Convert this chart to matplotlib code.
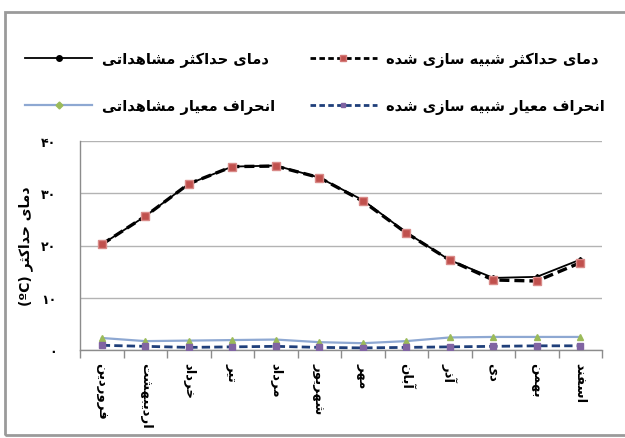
import numpy as np
import matplotlib
matplotlib.use('Agg')
import matplotlib.pyplot as plt
from matplotlib.lines import Line2D
from matplotlib.patches import Rectangle

plt.rcParams['font.family'] = ['DejaVu Sans']

months = ['فروردین', 'اردیبهشت', 'خرداد', 'تیر', 'مرداد', 'شهریور',
          'مهر', 'آبان', 'آذر', 'دی', 'بهمن', 'اسفند']
tmax_obs = [20.2, 25.6, 31.8, 35.1, 35.3, 33.0, 28.7, 22.5, 17.2, 13.8, 14.0, 17.3]
tmax_sim = [20.2, 25.6, 31.8, 35.1, 35.2, 33.0, 28.5, 22.4, 17.2, 13.4, 13.2, 16.7]
sd_obs = [2.3, 1.7, 1.8, 1.9, 2.0, 1.5, 1.3, 1.7, 2.4, 2.5, 2.5, 2.5]
sd_sim = [0.9, 0.7, 0.5, 0.6, 0.7, 0.5, 0.4, 0.5, 0.6, 0.7, 0.8, 0.8]
yticks = [0, 10, 20, 30, 40]

# presentation forms: isolated, final, initial, medial
FORMS = {
    'ا': (0xFE8D, 0xFE8E), 'آ': (0xFE81, 0xFE82),
    'د': (0xFEA9, 0xFEAA), 'ذ': (0xFEAB, 0xFEAC),
    'ر': (0xFEAD, 0xFEAE), 'ز': (0xFEAF, 0xFEB0),
    'و': (0xFEED, 0xFEEE),
    'ب': (0xFE8F, 0xFE90, 0xFE91, 0xFE92), 'ت': (0xFE95, 0xFE96, 0xFE97, 0xFE98),
    'ث': (0xFE99, 0xFE9A, 0xFE9B, 0xFE9C), 'ح': (0xFEA1, 0xFEA2, 0xFEA3, 0xFEA4),
    'خ': (0xFEA5, 0xFEA6, 0xFEA7, 0xFEA8), 'س': (0xFEB1, 0xFEB2, 0xFEB3, 0xFEB4),
    'ش': (0xFEB5, 0xFEB6, 0xFEB7, 0xFEB8), 'ع': (0xFEC9, 0xFECA, 0xFECB, 0xFECC),
    'ف': (0xFED1, 0xFED2, 0xFED3, 0xFED4), 'م': (0xFEE1, 0xFEE2, 0xFEE3, 0xFEE4),
    'ن': (0xFEE5, 0xFEE6, 0xFEE7, 0xFEE8), 'ه': (0xFEE9, 0xFEEA, 0xFEEB, 0xFEEC),
    'ک': (0xFB8E, 0xFB8F, 0xFB90, 0xFB91), 'ی': (0xFBFC, 0xFBFD, 0xFBFE, 0xFBFF),
}


def fa(text):
    out = []
    for i, ch in enumerate(text):
        if ch not in FORMS:
            out.append(ch)
            continue
        f = FORMS[ch]
        prev = text[i - 1] if i > 0 else ''
        nxt = text[i + 1] if i + 1 < len(text) else ''
        jp = prev in FORMS and len(FORMS[prev]) == 4
        jn = len(f) == 4 and nxt in FORMS
        if jp and jn:
            c = f[3]
        elif jp:
            c = f[1]
        elif jn:
            c = f[2]
        else:
            c = f[0]
        out.append(chr(c))
    return ''.join(out)[::-1]


def fa_digits(n):
    return ''.join(chr(0x06F0 + int(d)) for d in str(n))


fig = plt.figure(figsize=(6.25, 4.39), dpi=100)
fig.patches.append(Rectangle((5 / 625, 3 / 439), 1.0, 1 - 16 / 439,
                             transform=fig.transFigure, fill=False,
                             edgecolor='#9a9a9a', linewidth=2.0))
ax = fig.add_axes([80 / 625, 1 - 351 / 439, 522 / 625, 209 / 439])

x = np.arange(len(months))
ax.plot(x, tmax_obs, color='black', lw=1.3, marker='D', ms=3,
        mfc='black', mec='black', zorder=4)
ax.plot(x, tmax_sim, color='black', lw=2.4, ls=(0, (3, 1.5)), marker='s', ms=5.5,
        mfc='#c0504d', mec='#d98a88', zorder=5)
ax.plot(x, sd_obs, color='#8ea8d2', lw=1.6, marker='^', ms=5,
        mfc='#9bbb59', mec='#9bbb59', zorder=3)
ax.plot(x, sd_sim, color='#1f3f7a', lw=2.0, ls=(0, (3, 1.5)), marker='s', ms=4,
        mfc='#8064a2', mec='#8064a2', zorder=3)

ax.set_xlim(-0.5, len(months) - 0.5)
ax.set_ylim(0, 40)
ax.set_yticks(yticks)
ax.set_yticklabels([fa_digits(v) for v in yticks], fontsize=9, fontweight='bold')
ax.tick_params(axis='y', length=0, pad=17)
ax.set_xticks(x)
ax.set_xticklabels([fa(m) for m in months], rotation=-90, fontsize=9.5,
                   fontweight='bold', va='top', ha='center')
ax.set_xticks(np.arange(-0.5, len(months)), minor=True)
ax.tick_params(axis='x', which='major', length=0, pad=9)
ax.tick_params(axis='x', which='minor', length=6, color='#8c8c8c', width=1)
ax.grid(axis='y', color='#b3b3b3', lw=1)
ax.set_axisbelow(True)
for s in ['top', 'right']:
    ax.spines[s].set_visible(False)
for s in ['left', 'bottom']:
    ax.spines[s].set_color('#8c8c8c')
    ax.spines[s].set_linewidth(1)

ax.set_ylabel('(ºC) ' + fa('دمای حداکثر'), fontsize=10, fontweight='bold', labelpad=6)

handles = [
    Line2D([], [], color='black', lw=1.3, marker='o', ms=4, mfc='black'),
    Line2D([], [], color='#8ea8d2', lw=1.6, marker='D', ms=3.5, mfc='#9bbb59', mec='#9bbb59'),
    Line2D([], [], color='black', lw=2.0, ls=(0, (2, 1.2)), marker='s', ms=4.5,
           mfc='#c0504d', mec='#d47a78'),
    Line2D([], [], color='#1f3f7a', lw=2.0, ls=(0, (2, 1.2)), marker='s', ms=3.5,
           mfc='#8064a2', mec='#8064a2'),
]
labels = [fa('دمای حداکثر مشاهداتی'), fa('انحراف معیار مشاهداتی'),
          fa('دمای حداکثر شبیه سازی شده'), fa('انحراف معیار شبیه سازی شده')]
fig.legend(handles, labels, ncol=2, loc='upper left',
           bbox_to_anchor=(25 / 625, 1 - 52 / 439), frameon=False,
           prop={'size': 10.5, 'weight': 'bold'}, borderpad=0, borderaxespad=0,
           handlelength=4.6, handletextpad=0.65, labelspacing=2.15, columnspacing=2.4)

fig.savefig('out.png', dpi=100, facecolor='white')
